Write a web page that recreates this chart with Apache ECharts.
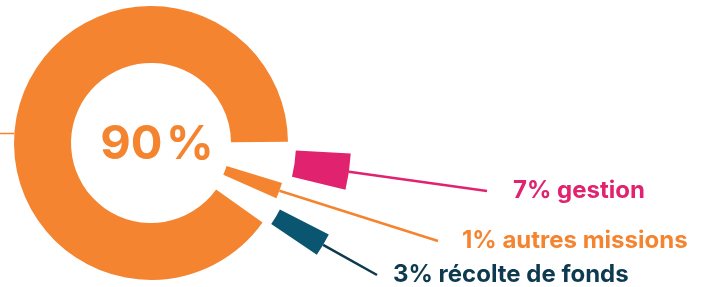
<!DOCTYPE html>
<html>
<head>
<meta charset="utf-8">
<script src="https://cdn.jsdelivr.net/npm/echarts@6/dist/echarts.min.js"></script>
<style>
  html, body { margin: 0; padding: 0; background: #fff; }
  #main { width: 706px; height: 287px; }
</style>
</head>
<body>
<div id="main"></div>
<script>
var categories = ['missions sociales', 'gestion', 'autres missions', 'récolte de fonds'];
var shares = [90, 7, 1, 3];

var ORANGE = '#f4842f', PINK = '#e0226f', TEAL = '#0a5670', NAVY = '#0e3a4f';
var FONT = 'Inter';
var center = [151, 143];

// the three small shares are drawn as callout wedges pulled out of the ring gap
var DEG_PER_PCT = 1.5;   // wedges are not to scale in the source
var MIN_SPAN = 6.75;
var GAP = 3.5;
var wedges = [
  { color: PINK,   text: PINK,   radius: [145, 200], anchor: [487, 191], pad: [0, 0, 13, 26] },
  { color: ORANGE, text: ORANGE, radius: [79, 137],  anchor: [438, 241], pad: [0, 0, 11, 24] },
  { color: TEAL,   text: NAVY,   radius: [145, 200], anchor: [377, 275], pad: [0, 0, 1, 16] }
];

var series = [{
  type: 'pie',
  center: center,
  radius: [80, 137],
  startAngle: 0.5,
  clockwise: false,
  silent: true,
  animation: false,
  avoidLabelOverlap: false,
  emphasis: { disabled: true },
  label: {
    show: true,
    position: 'center',
    padding: [3, 0, 0, 12],
    formatter: function (p) { return '{n|' + p.value + '}{s| }{n|%}'; },
    rich: {
      n: { fontFamily: FONT, fontWeight: 700, fontSize: 47, color: ORANGE },
      s: { fontFamily: FONT, fontSize: 12 }
    }
  },
  labelLine: { show: false },
  data: [
    { name: categories[0], value: shares[0], itemStyle: { color: ORANGE } },
    { name: 'gap', value: 100 - shares[0], itemStyle: { color: 'transparent' }, label: { show: false } }
  ]
}];

var start = -3;
wedges.forEach(function (w, i) {
  var v = shares[i + 1];
  var span = Math.max(v * DEG_PER_PCT, MIN_SPAN);
  series.push({
    type: 'pie',
    center: center,
    radius: w.radius,
    startAngle: start,
    clockwise: true,
    minAngle: MIN_SPAN,
    silent: true,
    animation: false,
    avoidLabelOverlap: false,
    emphasis: { disabled: true },
    label: {
      show: true,
      position: 'outside',
      formatter: '{c}% {b}',
      color: w.text,
      fontFamily: FONT,
      fontWeight: 700,
      fontSize: 24,
      padding: w.pad,
      backgroundColor: 'transparent'
    },
    labelLine: { show: true, length: 20, length2: 0, lineStyle: { color: w.text, width: 2.5 } },
    labelLayout: function (p) {
      if (p.dataIndex !== 0) return {};
      return { x: w.anchor[0], y: w.anchor[1], align: 'left', verticalAlign: 'middle' };
    },
    data: [
      { name: categories[i + 1], value: v, itemStyle: { color: w.color } },
      { name: 'rest', value: 360 / DEG_PER_PCT - v, itemStyle: { color: 'transparent' },
        label: { show: false }, labelLine: { show: false } }
    ]
  });
  start -= span + GAP;
});

var myChart = echarts.init(document.getElementById('main'));
myChart.setOption({
  backgroundColor: '#fff',
  graphic: [{
    type: 'line',
    shape: { x1: 0, y1: 133.5, x2: 14, y2: 133.5 },
    style: { stroke: ORANGE, lineWidth: 1.5 },
    silent: true
  }],
  series: series
});
</script>
</body>
</html>
